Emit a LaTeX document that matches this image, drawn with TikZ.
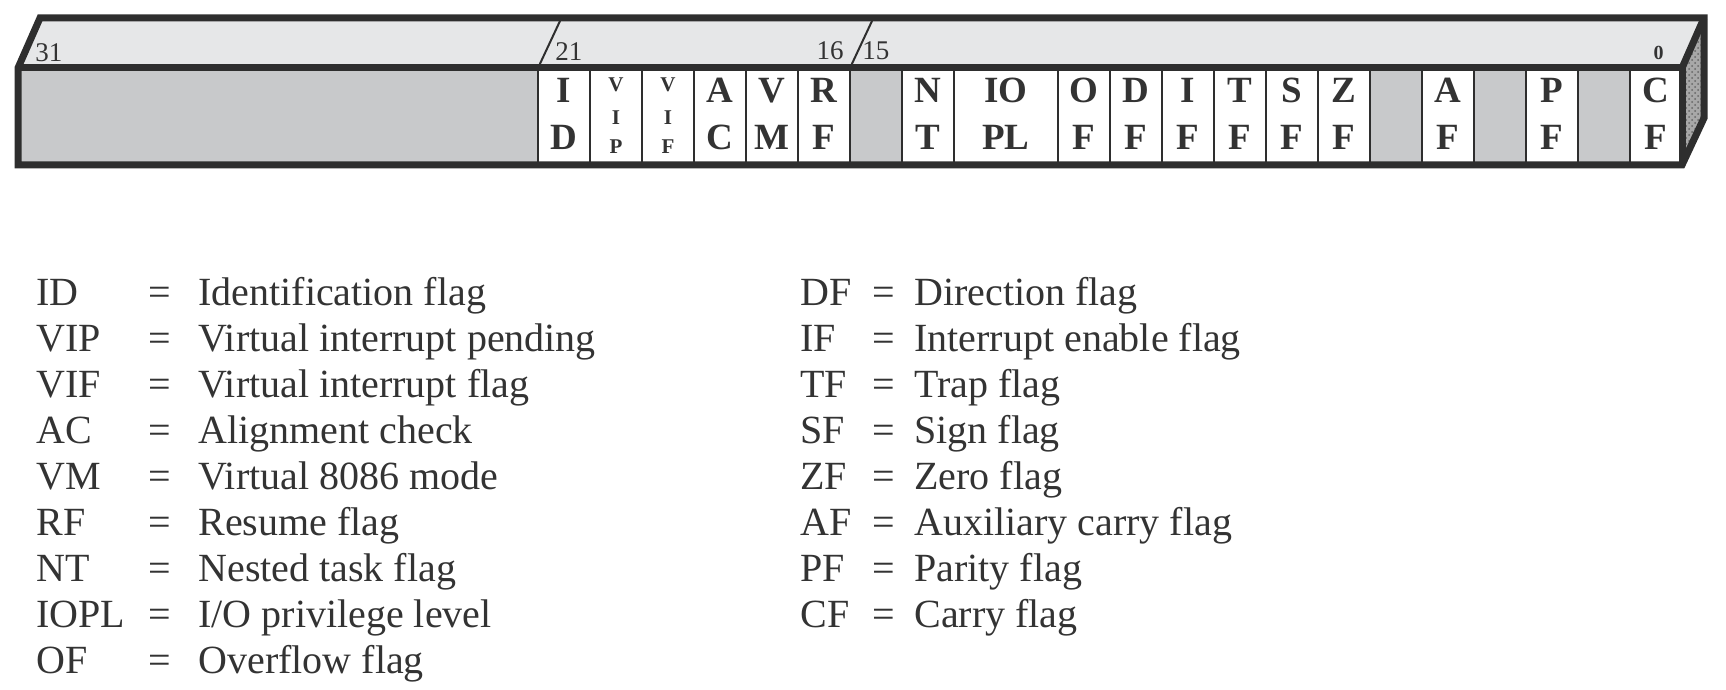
\documentclass[tikz,border=0pt]{standalone}
\usepackage{fontspec}
\setmainfont{Liberation Serif}
\usetikzlibrary{patterns}
\definecolor{edge}{HTML}{2E2E2E}
\definecolor{topface}{HTML}{E6E7E8}
\definecolor{resv}{HTML}{C8C9CB}
\definecolor{sideface}{HTML}{A8A8A8}
\definecolor{ink}{HTML}{333333}

\begin{document}
\begin{tikzpicture}[x=0.5pt,y=-0.5pt,
  cell/.style={draw=edge, line width=1.2pt, fill=white, minimum width=26pt,
    minimum height=48.5pt, inner sep=0pt, outer sep=0pt},
  rcell/.style={cell, fill=resv},
  flag/.style={font=\bfseries\fontsize{18.5}{20}\selectfont, text=ink,
    anchor=base, inner sep=0pt},
  smallflag/.style={font=\bfseries\fontsize{10.5}{12}\selectfont, text=ink,
    anchor=base, inner sep=0pt},
  bitnum/.style={font=\fontsize{13.5}{15}\selectfont, text=ink, inner sep=0pt},
  outline/.style={draw=edge, line width=3.5pt},
  slash/.style={draw=edge, line width=1pt},
  legend/.style={font=\fontsize{20}{22}\selectfont, text=ink,
    inner sep=0pt, anchor=base west},
  eq/.style={font=\fontsize{20}{22}\selectfont, text=ink,
    inner sep=0pt, anchor=base}
]
\useasboundingbox (0,0) rectangle (1726,690);

% corners of the register block
\coordinate (fl) at (18,68);
\coordinate (fr) at (1682,68);
\coordinate (bl) at (18,165);
\coordinate (br) at (1682,165);
\coordinate (tl) at (40,18);
\coordinate (tr) at (1704,18);
\coordinate (sr) at (1704,118);

% top and side faces
\fill[topface] (fl) -- (tl) -- (tr) -- (fr) -- cycle;
\fill[sideface] (fr) -- (tr) -- (sr) -- (br) -- cycle;
\fill[pattern=crosshatch dots, pattern color=black!60] (fr) -- (tr) -- (sr) -- (br) -- cycle;

% reserved upper bits 31..22
\node[rcell, minimum width=260pt] (hi) at (278,116.5) {};

% flag cells, bit b spans x from 1630-52b to 1682-52b
\foreach \b/\t/\u in {21/I/D,18/A/C,17/V/M,16/R/F,14/N/T,11/O/F,10/D/F,
                      9/I/F,8/T/F,7/S/F,6/Z/F,4/A/F,2/P/F,0/C/F}{
  \pgfmathsetmacro\xc{1656-52*\b}
  \node[cell] (c\b) at (\xc,116.5) {};
  \node[flag] (c\b-t) at (\xc,103) {\t};
  \node[flag] (c\b-u) at (\xc,150) {\u};
}
% narrow-lettered cells
\foreach \b/\p/\q/\r in {20/V/I/P,19/V/I/F}{
  \pgfmathsetmacro\xc{1656-52*\b}
  \node[cell] (c\b) at (\xc,116.5) {};
  \node[smallflag] (c\b-p) at (\xc,92) {\p};
  \node[smallflag] (c\b-q) at (\xc,125) {\q};
  \node[smallflag] (c\b-r) at (\xc,154) {\r};
}
% two-bit field IOPL
\node[cell, minimum width=52pt] (iopl) at (1006,116.5) {};
\node[flag] (iopl-t) at (1006,103) {IO};
\node[flag] (iopl-u) at (1006,150) {PL};
% reserved single bits
\foreach \b in {15,5,3,1}{
  \pgfmathsetmacro\xc{1656-52*\b}
  \node[rcell] (c\b) at (\xc,116.5) {};
}

% bit-position marks on the top face
\coordinate (s21) at (538,68);
\coordinate (s16) at (850,68);
\draw[slash] (s21) -- ++(22,-47);
\draw[slash] (s16) -- ++(22,-47);
\node[bitnum, anchor=base west] (n31) at (35,62) {31};
\node[bitnum, anchor=base west] (n21) at (555,61) {21};
\node[bitnum, anchor=base east] (n16) at (844,60) {16};
\node[bitnum, anchor=base west] (n15) at (862,60) {15};
\node[bitnum, anchor=base east, font=\bfseries\fontsize{10}{12}\selectfont] (n0) at (1664,60) {0};

% block outline
\draw[outline] (bl) -- (fl) -- (tl) -- (tr) -- (sr) -- (br) -- cycle;
\draw[outline] (fl) -- (fr) -- (br);
\draw[outline] (fr) -- (tr);

% legend, left column
\foreach [count=\i from 0] \a/\d in {ID/Identification flag,
    VIP/Virtual interrupt pending, VIF/Virtual interrupt flag,
    AC/Alignment check, VM/Virtual 8086 mode, RF/Resume flag,
    NT/Nested task flag, IOPL/{I/O privilege level}, OF/Overflow flag}{
  \pgfmathsetmacro\yb{305+46*\i}
  \node[legend] (la\i) at (36,\yb) {\a};
  \node[eq] (le\i) at (160,\yb) {=};
  \node[legend] (ld\i) at (198,\yb) {\d};
}
% legend, right column
\foreach [count=\i from 0] \a/\d in {DF/Direction flag,
    IF/Interrupt enable flag, TF/Trap flag, SF/Sign flag, ZF/Zero flag,
    AF/Auxiliary carry flag, PF/Parity flag, CF/Carry flag}{
  \pgfmathsetmacro\yb{305+46*\i}
  \node[legend] (ra\i) at (800,\yb) {\a};
  \node[eq] (re\i) at (884,\yb) {=};
  \node[legend] (rd\i) at (914,\yb) {\d};
}
\end{tikzpicture}
\end{document}
